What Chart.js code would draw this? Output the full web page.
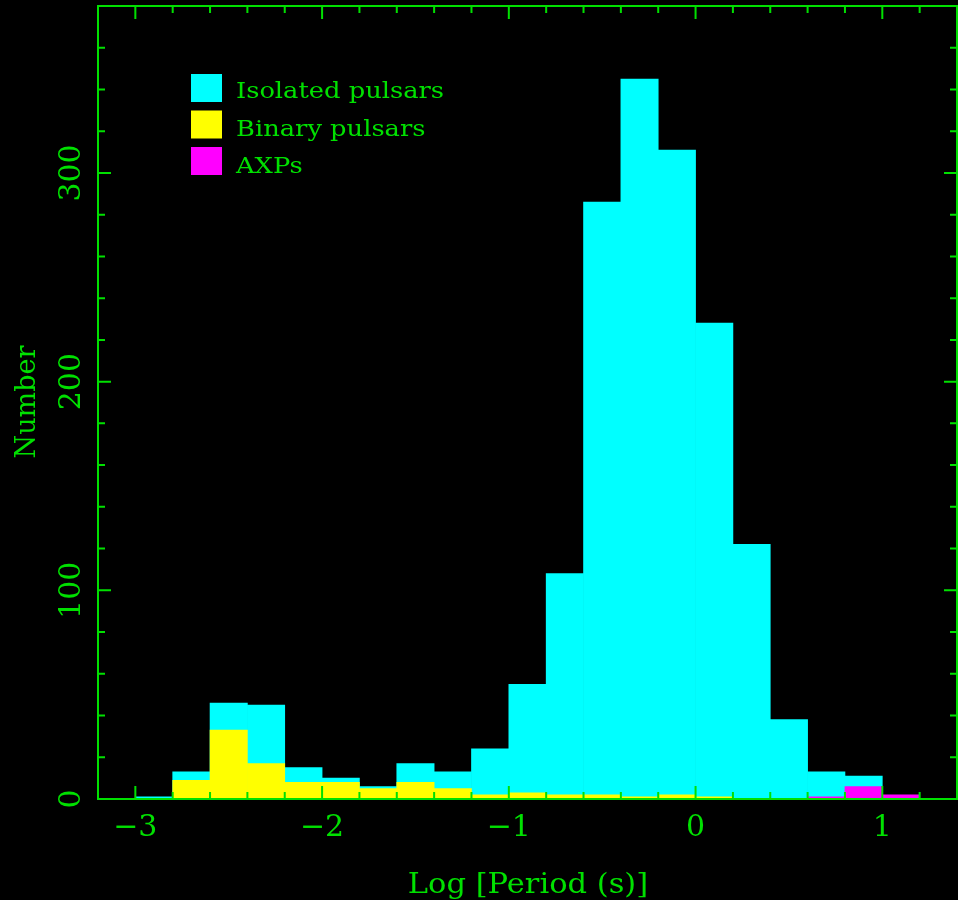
<!DOCTYPE html>
<html>
<head>
<meta charset="utf-8">
<script src="https://cdn.jsdelivr.net/npm/chart.js@4.4.1/dist/chart.umd.min.js"></script>
<style>
  body { margin: 0; background: #000; }
  #wrap { width: 958px; height: 900px; position: relative; }
</style>
</head>
<body>
<div id="wrap"><canvas id="myChart"></canvas></div>
<script>
// Histogram bins of log period, 0.2 dex wide
const binCenters = [-2.9, -2.7, -2.5, -2.3, -2.1, -1.9, -1.7, -1.5, -1.3, -1.1, -0.9,
                    -0.7, -0.5, -0.3, -0.1, 0.1, 0.3, 0.5, 0.7, 0.9, 1.1];
const isolated = [1, 13, 46, 45, 15, 10, 6, 17, 13, 24, 55,
                  108, 286, 345, 311, 228, 122, 38, 13, 11, 0];
const binary = [0, 9, 33, 17, 8, 8, 5, 8, 5, 2, 3,
                2, 2, 1, 2, 1, 0, 0, 0, 0, 0];
const axps = [0, 0, 0, 0, 0, 0, 0, 0, 0, 0, 0,
              0, 0, 0, 0, 0, 0, 0, 1, 6, 2];

// Axis ticks and labels
const xMajorTicks = [-3, -2, -1, 0, 1];
const xTickLabels = ['\u22123', '\u22122', '\u22121', '0', '1'];
const yMajorTicks = [0, 100, 200, 300];
const yTickLabels = ['0', '100', '200', '300'];
const xTitle = 'Log [Period (s)]';
const yTitle = 'Number';

const GREEN = '#00e000';
const FONT = '"DejaVu Serif", serif';

function toPoints(values) {
    return binCenters.map((c, i) => ({ x: c, y: values[i] }));
}

// draw text stretched sideways (the plotter font is wider than DejaVu)
function wideText(ctx, text, x, y, sx) {
    ctx.save();
    ctx.translate(x, y);
    ctx.scale(sx, 1);
    ctx.fillText(text, 0, 0);
    ctx.restore();
}

// Frame with inward ticks on all four sides, tick labels and titles
const framePlugin = {
    id: 'frame',
    beforeDraw(chart) {
        const ctx = chart.ctx;
        ctx.save();
        ctx.fillStyle = '#000';
        ctx.fillRect(0, 0, chart.width, chart.height);
        ctx.restore();
    },
    afterDatasetsDraw(chart) {
        const ctx = chart.ctx;
        const a = chart.chartArea;
        const xs = chart.scales.x, ys = chart.scales.y;
        ctx.save();
        ctx.strokeStyle = GREEN;
        ctx.lineWidth = 2;
        ctx.strokeRect(a.left, a.top, a.right - a.left, a.bottom - a.top);

        ctx.beginPath();
        // x ticks: minor every 0.2, major at integers
        for (let v = -3.2; v <= 1.4001; v += 0.2) {
            const r = Math.round(v * 10) / 10;
            const px = xs.getPixelForValue(r);
            const len = Number.isInteger(r) ? 13 : 7;
            ctx.moveTo(px, a.bottom); ctx.lineTo(px, a.bottom - len);
            ctx.moveTo(px, a.top); ctx.lineTo(px, a.top + len);
        }
        // y ticks: minor every 20, major every 100
        for (let v = 0; v <= 380; v += 20) {
            const py = ys.getPixelForValue(v);
            const len = v % 100 === 0 ? 13 : 7;
            ctx.moveTo(a.left, py); ctx.lineTo(a.left + len, py);
            ctx.moveTo(a.right, py); ctx.lineTo(a.right - len, py);
        }
        ctx.stroke();

        ctx.fillStyle = GREEN;
        ctx.font = '30px ' + FONT;
        ctx.textAlign = 'center';
        ctx.textBaseline = 'alphabetic';
        xMajorTicks.forEach((v, i) => {
            ctx.fillText(xTickLabels[i], xs.getPixelForValue(v), 836);
        });
        yMajorTicks.forEach((v, i) => {
            ctx.save();
            ctx.translate(80, ys.getPixelForValue(v));
            ctx.rotate(-Math.PI / 2);
            ctx.fillText(yTickLabels[i], 0, 0);
            ctx.restore();
        });

        ctx.font = '27px ' + FONT;
        wideText(ctx, xTitle, 528, 893, 1.13);
        ctx.save();
        ctx.translate(35, 402);
        ctx.rotate(-Math.PI / 2);
        ctx.fillText(yTitle, 0, 0);
        ctx.restore();

        // legend
        ctx.font = '22px ' + FONT;
        ctx.textAlign = 'left';
        chart.data.datasets.forEach((ds, i) => {
            const y0 = 74 + i * 36.5;
            ctx.fillStyle = ds.backgroundColor;
            ctx.fillRect(191, y0, 31, 28);
            ctx.fillStyle = GREEN;
            wideText(ctx, ds.label, 236, 98 + i * 37.5, 1.17);
        });
        ctx.restore();
    }
};

const ctx = document.getElementById('myChart').getContext('2d');
const myChart = new Chart(ctx, {
    type: 'bar',
    data: {
        datasets: [
            { label: 'Isolated pulsars', data: toPoints(isolated), backgroundColor: '#00ffff', order: 2 },
            { label: 'Binary pulsars', data: toPoints(binary), backgroundColor: '#ffff00', order: 1 },
            { label: 'AXPs', data: toPoints(axps), backgroundColor: '#ff00ff', order: 0 }
        ]
    },
    options: {
        responsive: true,
        maintainAspectRatio: false,
        animation: false,
        layout: { padding: { left: 98, right: 1, top: 6, bottom: 101 } },
        datasets: {
            bar: { grouped: false, barPercentage: 1, categoryPercentage: 1, borderWidth: 0 }
        },
        plugins: { legend: { display: false }, tooltip: { enabled: false } },
        scales: {
            x: { type: 'linear', min: -3.2, max: 1.4, offset: false, display: false },
            y: { type: 'linear', min: 0, max: 380, display: false }
        }
    },
    plugins: [framePlugin]
});
</script>
</body>
</html>
